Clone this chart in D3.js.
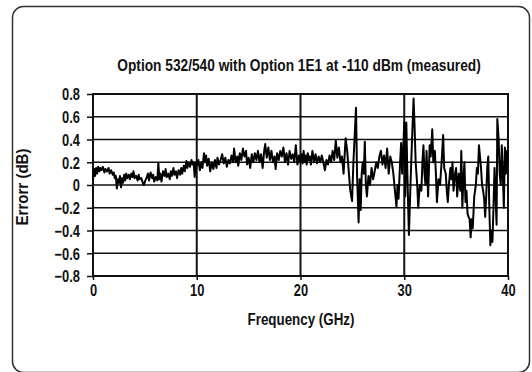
<!DOCTYPE html>
<html>
<head>
<meta charset="utf-8">
<script src="https://cdn.jsdelivr.net/npm/d3@7"></script>
<style>
  body { margin: 0; background: #fff; }
  text { font-family: "Liberation Sans", Arial, sans-serif; font-weight: bold; fill: #111; }
</style>
</head>
<body>
<div id="chart-area"></div>
<script>
// chart values
var title = "Option 532/540 with Option 1E1 at -110 dBm (measured)";
var xTitle = "Frequency (GHz)";
var yTitle = "Errorr (dB)";
var xTicks = [0, 10, 20, 30, 40];
var yTicks = [-0.8, -0.6, -0.4, -0.2, 0, 0.2, 0.4, 0.6, 0.8];

// measured trace: [frequency GHz, error dB]
var errorTrace = [
  [0,0.05],[0.1,0.14],[0.2,0.08],[0.3,0.15],[0.4,0.1],[0.5,0.16],[0.6,0.12],[0.7,0.15],[0.8,0.13],[0.95,0.16],
  [1.1,0.11],[1.2,0.14],[1.35,0.12],[1.5,0.15],[1.6,0.1],[1.75,0.13],[1.9,0.09],[2.0,0.11],[2.1,0.06],[2.2,0.08],
  [2.3,-0.03],[2.4,0.05],[2.5,0.02],[2.6,0.08],[2.7,-0.02],[2.8,0.06],[2.9,0.02],[3.0,0.09],[3.1,0.04],[3.2,0.1],
  [3.3,0.06],[3.45,0.09],[3.55,0.05],[3.7,0.1],[3.8,0.07],[3.9,0.12],[4.0,0.06],[4.15,0.08],[4.3,0.04],[4.4,0.09],
  [4.5,0.05],[4.65,0.06],[4.8,0.02],[4.9,0.0],[5.0,0.03],[5.15,0.06],[5.3,0.1],[5.4,0.04],[5.55,0.11],[5.7,0.06],
  [5.8,0.09],[5.9,0.03],[6.05,0.07],[6.2,0.04],[6.3,0.19],[6.4,0.05],[6.5,0.1],[6.6,0.03],[6.75,0.12],[6.9,0.08],
  [7.0,0.14],[7.1,0.07],[7.25,0.1],[7.4,0.05],[7.5,0.12],[7.6,0.08],[7.75,0.15],[7.85,0.09],[8.0,0.12],[8.1,0.06],
  [8.25,0.13],[8.4,0.09],[8.5,0.15],[8.6,0.1],[8.75,0.17],[8.85,0.12],[9.0,0.21],[9.1,0.15],[9.2,0.2],[9.35,0.16],
  [9.5,0.22],[9.6,0.18],[9.7,0.2],[9.8,0.07],[9.9,0.2],[10.0,0.17],
  [10.15,0.22],[10.3,0.13],[10.45,0.2],[10.55,0.15],[10.7,0.28],[10.8,0.2],[10.9,0.26],[11.0,0.17],[11.15,0.23],[11.3,0.12],
  [11.45,0.2],[11.6,0.14],[11.75,0.22],[11.9,0.15],[12.0,0.24],[12.15,0.18],[12.3,0.22],[12.45,0.27],[12.6,0.19],[12.75,0.24],
  [12.9,0.16],[13.05,0.22],[13.2,0.19],[13.35,0.26],[13.5,0.2],[13.6,0.32],[13.75,0.2],[13.9,0.25],[14.0,0.17],[14.15,0.28],
  [14.3,0.22],[14.45,0.32],[14.6,0.25],[14.75,0.3],[14.85,0.18],[15.0,0.24],[15.15,0.15],[15.3,0.27],[15.45,0.2],[15.6,0.28],
  [15.75,0.22],[15.9,0.3],[16.05,0.2],[16.2,0.27],[16.35,0.15],[16.5,0.3],[16.6,0.36],[16.75,0.24],[16.9,0.33],[17.05,0.22],
  [17.2,0.3],[17.35,0.2],[17.5,0.25],[17.6,0.14],[17.75,0.28],[17.9,0.22],[18.05,0.3],[18.2,0.25],[18.35,0.33],[18.5,0.2],
  [18.65,0.28],[18.8,0.18],[18.95,0.3],[19.1,0.23],[19.25,0.27],[19.4,0.2],[19.55,0.35],[19.7,0.18],[19.85,0.26],[20.0,0.2],
  [20.1,0.27],[20.2,0.19],[20.3,0.3],[20.4,0.2],[20.5,0.26],[20.6,0.18],[20.7,0.28],[20.8,0.22],[20.9,0.25],[21.0,0.18],
  [21.15,0.3],[21.3,0.2],[21.45,0.27],[21.6,0.19],[21.75,0.25],[21.9,0.2],[22.05,0.26],[22.2,0.2],[22.35,0.13],[22.5,0.22],
  [22.65,0.18],[22.8,0.26],[22.95,0.2],[23.1,0.3],[23.25,0.22],[23.4,0.39],[23.55,0.24],[23.7,0.33],[23.85,0.2],[24.0,0.25],
  [24.15,0.1],[24.35,0.41],[24.5,0.3],[24.65,0.12],[24.8,-0.05],[24.97,-0.14],[25.1,0.2],[25.35,0.68],[25.45,0.1],[25.6,-0.33],
  [25.7,0.05],[25.8,-0.22],[25.9,0.1],[26.0,0.2],[26.1,0.1],[26.2,0.38],[26.3,0.0],[26.4,-0.1],[26.55,0.08],[26.7,0.0],
  [26.85,0.15],[27.0,0.05],[27.15,0.12],[27.3,0.2],[27.45,0.15],[27.6,0.25],[27.75,0.3],[27.9,0.18],[28.05,0.26],[28.2,0.15],
  [28.35,0.32],[28.5,0.1],[28.65,0.25],[28.8,0.2],[28.95,0.1],[29.1,-0.05],[29.25,-0.19],[29.35,0.0],[29.45,-0.12],[29.6,0.2],
  [29.7,0.37],[29.8,0.1],[29.9,0.3],[30.0,0.55],[30.1,-0.1],[30.2,0.55],[30.3,0.1],[30.45,-0.44],[30.6,0.0],[30.75,0.4],
  [30.9,0.76],[31.0,0.5],[31.1,0.2],[31.25,0.0],[31.35,-0.2],[31.5,0.0],[31.65,-0.05],[31.75,0.2],[31.85,0.35],[31.95,0.1],
  [32.05,0.0],[32.15,0.3],[32.3,-0.1],[32.45,0.35],[32.55,0.25],[32.7,0.49],[32.8,0.2],[32.95,0.3],[33.05,0.1],[33.15,-0.15],
  [33.3,0.05],[33.45,0.0],[33.6,0.2],[33.75,0.44],[33.85,0.15],[34.0,0.1],[34.1,-0.05],[34.2,-0.15],[34.3,0.0],[34.45,0.15],
  [34.55,0.05],[34.65,0.2],[34.75,-0.05],[34.9,0.1],[35.0,0.15],[35.1,-0.1],[35.25,0.1],[35.4,-0.05],[35.5,0.3],[35.6,-0.2],
  [35.7,0.05],[35.8,0.2],[35.9,-0.15],[36.0,-0.05],[36.1,-0.25],[36.2,-0.28],[36.3,-0.3],[36.4,-0.46],[36.5,-0.3],[36.6,-0.38],
  [36.75,-0.1],[36.9,0.0],[37.0,0.15],[37.1,0.1],[37.2,0.35],[37.3,0.25],[37.4,0.15],[37.5,0.0],[37.6,-0.05],[37.7,-0.12],
  [37.8,-0.28],[37.9,-0.1],[38.0,0.15],[38.1,0.25],[38.2,-0.2],[38.3,-0.53],[38.4,-0.4],[38.5,-0.5],[38.6,-0.2],[38.7,0.15],
  [38.8,-0.1],[38.9,-0.35],[38.97,0.58],[39.1,0.4],[39.2,0.1],[39.3,0.0],[39.4,0.35],[39.5,0.1],[39.6,-0.2],[39.7,0.33],
  [39.8,0.1],[39.9,0.3],[40.0,0.2]
];

var W = 532, H = 372;
var margin = { left: 93, right: 24, top: 94, bottom: 96 };
var width = W - margin.left - margin.right,
  height = H - margin.top - margin.bottom;
var fontPx = "16.5px";

// squeeze a bold sans into a condensed look (tick labels)
function condense(sel, factor) {
  sel.each(function() {
    var len = this.getComputedTextLength();
    d3.select(this)
      .attr("textLength", len * factor)
      .attr("lengthAdjust", "spacingAndGlyphs");
  });
}

// label drawn at (cx, cy), scaled horizontally to a target width
function label(parent, txt, cx, cy, target, rotate) {
  var grp = parent.append("g");
  var t = grp.append("text")
    .attr("font-size", fontPx)
    .attr("text-anchor", "middle")
    .text(txt);
  var s = target / t.node().getComputedTextLength();
  grp.attr("transform", "translate(" + cx + "," + cy + ")" +
    (rotate ? " rotate(-90)" : "") + " scale(" + s + ",1)");
  return grp;
}

var svg = d3.select("#chart-area")
  .append("svg")
  .attr("width", W)
  .attr("height", H);

// outer rounded frame
svg.append("rect")
  .attr("x", 12.5).attr("y", 6.5)
  .attr("width", 517).attr("height", 366)
  .attr("rx", 11).attr("ry", 11)
  .attr("fill", "none")
  .attr("stroke", "#333")
  .attr("stroke-width", 1.5);

var g = svg.append("g")
  .attr("transform", "translate(" + margin.left + ", " + margin.top + ")");

// X Scale
var x = d3.scaleLinear().domain([0, 40]).range([0, width]);
// Y Scale
var y = d3.scaleLinear().domain([-0.8, 0.8]).range([height, 0]);

// horizontal grid
g.append("g")
  .selectAll("line")
  .data(yTicks)
  .enter()
  .append("line")
  .attr("x1", 0).attr("x2", width)
  .attr("y1", function(d) { return y(d); })
  .attr("y2", function(d) { return y(d); })
  .attr("stroke", "#111")
  .attr("stroke-width", 1.5);

// vertical grid
g.append("g")
  .selectAll("line")
  .data(xTicks)
  .enter()
  .append("line")
  .attr("x1", function(d) { return x(d); })
  .attr("x2", function(d) { return x(d); })
  .attr("y1", 0).attr("y2", height)
  .attr("stroke", "#111")
  .attr("stroke-width", 2);

// frame
g.append("rect")
  .attr("width", width).attr("height", height)
  .attr("fill", "none")
  .attr("stroke", "#111")
  .attr("stroke-width", 2);

// Y Axis
var yAxisGroup = g.append("g")
  .call(d3.axisLeft(y).tickValues(yTicks).tickSize(6).tickPadding(7)
    .tickFormat(function(d) { return d === 0 ? "0" : d3.format(".1f")(d); }));

// X Axis
var xAxisGroup = g.append("g")
  .attr("transform", "translate(0," + height + ")")
  .call(d3.axisBottom(x).tickValues(xTicks).tickSize(4).tickPadding(4));

[xAxisGroup, yAxisGroup].forEach(function(ax) {
  ax.select(".domain").remove();
  ax.selectAll(".tick line").attr("stroke", "#111").attr("stroke-width", 1.5);
  ax.selectAll(".tick text")
    .attr("fill", "#111")
    .attr("font-size", fontPx)
    .attr("font-family", null);
  condense(ax.selectAll(".tick text"), 0.78);
});
yAxisGroup.selectAll(".tick text").attr("dy", "0.35em");

// trace
var line = d3.line()
  .x(function(d) { return x(d[0]); })
  .y(function(d) { return y(d[1]); });

g.append("path")
  .datum(errorTrace)
  .attr("d", line)
  .attr("fill", "none")
  .attr("stroke", "#000")
  .attr("stroke-width", 2)
  .attr("stroke-linejoin", "round");

// Title, axis titles
label(svg, title, 299, 71, 364, false);
label(svg, xTitle, 301, 325, 107, false);
label(svg, yTitle, 28, 187, 77, true);
</script>
</body>
</html>
